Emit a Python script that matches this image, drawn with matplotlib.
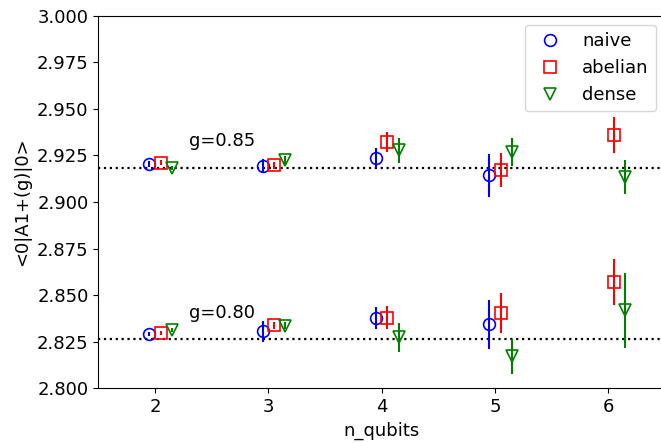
import matplotlib
matplotlib.use('Agg')
import matplotlib.pyplot as plt

# valeurs
n_qubits = [2, 3, 4, 5, 6]
g_values = [0.85, 0.80]
referencia = [2.9184, 2.8264]

naive_085 = [2.9204, 2.9193, 2.9238, 2.9143]
naive_085_err = [0.0018, 0.0040, 0.0054, 0.0115]
abelian_085 = [2.9211, 2.9197, 2.9322, 2.9172, 2.9358]
abelian_085_err = [0.0012, 0.0020, 0.0054, 0.0091, 0.0097]
dense_085 = [2.9181, 2.9223, 2.9277, 2.9270, 2.9133]
dense_085_err = [0.0010, 0.0025, 0.0067, 0.0075, 0.0092]

naive_080 = [2.8291, 2.8306, 2.8379, 2.8344]
naive_080_err = [0.0010, 0.0056, 0.0060, 0.0132]
abelian_080 = [2.8295, 2.8338, 2.8379, 2.8403, 2.8570]
abelian_080_err = [0.0010, 0.0020, 0.0063, 0.0106, 0.0123]
dense_080 = [2.8311, 2.8337, 2.8275, 2.8173, 2.8418]
dense_080_err = [0.0010, 0.0020, 0.0078, 0.0094, 0.0203]

metodos = [
    ('naive', 'b', 'o', -0.05, [naive_085, naive_080], [naive_085_err, naive_080_err]),
    ('abelian', 'r', 's', 0.05, [abelian_085, abelian_080], [abelian_085_err, abelian_080_err]),
    ('dense', 'g', 'v', 0.15, [dense_085, dense_080], [dense_085_err, dense_080_err]),
]

fig = plt.figure(figsize=(6.61, 4.43), dpi=100)
ax = fig.add_axes([0.1487, 0.1235, 0.8574, 0.8411])

for ref in referencia:
    ax.axhline(ref, color='k', linestyle=':', linewidth=1.6)

for nome, cor, marcador, desloc, series, erros in metodos:
    for i, (ys, es) in enumerate(zip(series, erros)):
        xs = [n + desloc for n in n_qubits[:len(ys)]]
        ax.errorbar(xs, ys, yerr=es, fmt='none', ecolor=cor, elinewidth=1.5)
        ax.plot(xs, ys, linestyle='none', marker=marcador, markersize=8.5,
                markerfacecolor='none', markeredgecolor=cor, markeredgewidth=1.2,
                label=nome if i == 0 else None)

for g, ref in zip(g_values, referencia):
    ax.text(2.3, ref + 0.0115, f'g={g:.2f}', fontsize=13)

ax.set_xlim(1.5, 6.5)
ax.set_ylim(2.8, 3.0)
ax.set_xticks(n_qubits)
ax.tick_params(labelsize=13)
ax.set_xlabel('n_qubits', fontsize=13)
ax.set_ylabel('<0|A1+(g)|0>', fontsize=13)
ax.legend(fontsize=13, loc='upper right')

fig.savefig('out.png', dpi=100)
